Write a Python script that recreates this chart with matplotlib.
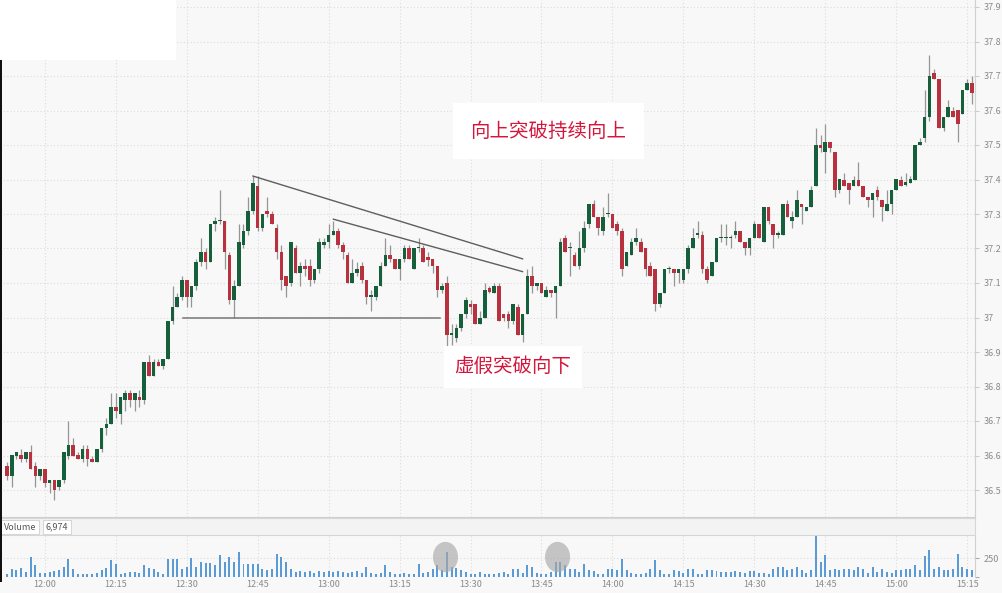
"""Минутные свечи с ложным пробоем вниз и продолжением вверх."""
import matplotlib.pyplot as plt
import numpy as np
from matplotlib.patches import Ellipse, Rectangle

plt.rcParams['font.family'] = ['Noto Sans CJK SC', 'DejaVu Sans']

START = 11 * 60 + 52  # first candle 11:52

opens = [
    36.57, 36.54, 36.60, 36.60, 36.59, 36.61, 36.57, 36.54, 36.56, 36.52,
    36.53, 36.51, 36.53, 36.60, 36.63, 36.60, 36.59, 36.62, 36.59, 36.58,
    36.62, 36.68, 36.69, 36.74, 36.72, 36.76, 36.78, 36.76, 36.77, 36.76,
    36.87, 36.83, 36.87, 36.86, 36.88, 36.99, 37.03, 37.06, 37.11, 37.06,
    37.09, 37.16, 37.19, 37.16, 37.27, 37.28, 37.28, 37.18, 37.05, 37.09,
    37.21, 37.25, 37.31, 37.38, 37.26, 37.31, 37.30, 37.26, 37.19, 37.12,
    37.10, 37.20, 37.13, 37.15, 37.15, 37.11, 37.14, 37.21, 37.22, 37.24,
    37.25, 37.21, 37.18, 37.10, 37.13, 37.15, 37.11, 37.06, 37.06, 37.09,
    37.15, 37.18, 37.17, 37.14, 37.17, 37.20, 37.14, 37.20, 37.20, 37.175,
    37.17, 37.15, 37.08, 37.10, 36.95, 36.94, 36.97, 37.01, 37.04, 37.04,
    36.98, 37.00, 37.085, 37.07, 37.09, 37.01, 37.01, 36.99, 37.03, 36.95,
    37.01, 37.12, 37.09, 37.10, 37.06, 37.08, 37.07, 37.09, 37.23, 37.20,
    37.18, 37.15, 37.20, 37.27, 37.33, 37.29, 37.25, 37.30, 37.30, 37.27,
    37.25, 37.15, 37.18, 37.22, 37.22, 37.20, 37.15, 37.14, 37.04, 37.07,
    37.14, 37.14, 37.13, 37.11, 37.14, 37.20, 37.24, 37.24, 37.14, 37.12,
    37.16, 37.23, 37.23, 37.23, 37.24, 37.25, 37.22, 37.20, 37.23, 37.27,
    37.22, 37.32, 37.27, 37.24, 37.24, 37.33, 37.28, 37.29, 37.33, 37.31,
    37.32, 37.38, 37.50, 37.48, 37.51, 37.48, 37.37, 37.40, 37.39, 37.38,
    37.40, 37.38, 37.35, 37.34, 37.37, 37.34, 37.31, 37.33, 37.37, 37.40,
    37.385, 37.39, 37.40, 37.50, 37.52, 37.58, 37.71, 37.69, 37.55, 37.58,
    37.60, 37.60, 37.59, 37.66, 37.68,
]
highs = [
    36.58, 36.60, 36.61, 36.62, 36.61, 36.63, 36.58, 36.56, 36.56, 36.53,
    36.53, 36.53, 36.61, 36.70, 36.65, 36.61, 36.63, 36.63, 36.60, 36.62,
    36.68, 36.71, 36.78, 36.78, 36.77, 36.79, 36.79, 36.78, 36.79, 36.87,
    36.89, 36.88, 36.88, 36.88, 36.99, 37.09, 37.07, 37.12, 37.11, 37.09,
    37.17, 37.23, 37.20, 37.27, 37.29, 37.37, 37.28, 37.19, 37.11, 37.27,
    37.27, 37.35, 37.41, 37.41, 37.30, 37.35, 37.31, 37.27, 37.21, 37.12,
    37.22, 37.21, 37.16, 37.17, 37.17, 37.14, 37.23, 37.23, 37.27, 37.28,
    37.26, 37.22, 37.19, 37.17, 37.16, 37.16, 37.11, 37.08, 37.09, 37.16,
    37.23, 37.21, 37.17, 37.17, 37.21, 37.21, 37.20, 37.23, 37.21, 37.19,
    37.17, 37.15, 37.10, 37.12, 36.98, 36.98, 37.01, 37.06, 37.05, 37.04,
    37.02, 37.10, 37.09, 37.10, 37.10, 37.01, 37.02, 37.04, 37.04, 37.01,
    37.14, 37.15, 37.10, 37.10, 37.09, 37.08, 37.09, 37.23, 37.24, 37.22,
    37.19, 37.25, 37.28, 37.33, 37.34, 37.29, 37.32, 37.36, 37.30, 37.28,
    37.26, 37.19, 37.23, 37.26, 37.23, 37.20, 37.16, 37.14, 37.07, 37.14,
    37.15, 37.14, 37.14, 37.14, 37.21, 37.26, 37.28, 37.25, 37.15, 37.16,
    37.23, 37.27, 37.27, 37.24, 37.28, 37.25, 37.22, 37.23, 37.28, 37.27,
    37.32, 37.32, 37.27, 37.25, 37.33, 37.34, 37.31, 37.37, 37.33, 37.32,
    37.38, 37.55, 37.53, 37.56, 37.51, 37.48, 37.40, 37.42, 37.39, 37.41,
    37.45, 37.38, 37.35, 37.36, 37.38, 37.34, 37.37, 37.37, 37.40, 37.41,
    37.42, 37.41, 37.50, 37.52, 37.66, 37.76, 37.72, 37.69, 37.58, 37.63,
    37.61, 37.60, 37.66, 37.69, 37.70,
]
lows = [
    36.53, 36.51, 36.59, 36.58, 36.58, 36.56, 36.51, 36.53, 36.51, 36.49,
    36.47, 36.50, 36.52, 36.59, 36.60, 36.59, 36.58, 36.57, 36.58, 36.58,
    36.61, 36.66, 36.69, 36.71, 36.69, 36.73, 36.74, 36.73, 36.74, 36.75,
    36.83, 36.83, 36.86, 36.85, 36.88, 36.98, 37.03, 37.05, 37.03, 37.03,
    37.08, 37.15, 37.14, 37.16, 37.25, 37.27, 37.14, 37.04, 37.00, 37.09,
    37.20, 37.24, 37.30, 37.25, 37.25, 37.29, 37.27, 37.17, 37.08, 37.06,
    37.09, 37.13, 37.09, 37.12, 37.09, 37.10, 37.13, 37.20, 37.20, 37.24,
    37.20, 37.17, 37.10, 37.10, 37.12, 37.10, 37.04, 37.02, 37.05, 37.09,
    37.15, 37.16, 37.14, 37.11, 37.16, 37.17, 37.14, 37.19, 37.16, 37.15,
    37.13, 37.06, 37.07, 36.90, 36.92, 36.93, 36.96, 37.00, 37.01, 36.98,
    36.98, 37.00, 37.07, 37.07, 36.99, 36.99, 36.97, 36.98, 36.95, 36.93,
    37.01, 37.07, 37.08, 37.07, 37.06, 37.06, 37.00, 37.09, 37.19, 37.12,
    37.15, 37.14, 37.19, 37.26, 37.29, 37.24, 37.24, 37.29, 37.26, 37.24,
    37.12, 37.15, 37.18, 37.21, 37.19, 37.12, 37.12, 37.02, 37.03, 37.07,
    37.13, 37.09, 37.10, 37.10, 37.13, 37.20, 37.23, 37.13, 37.10, 37.12,
    37.16, 37.22, 37.21, 37.20, 37.23, 37.22, 37.18, 37.18, 37.23, 37.23,
    37.22, 37.27, 37.20, 37.23, 37.24, 37.29, 37.26, 37.29, 37.27, 37.31,
    37.32, 37.38, 37.48, 37.42, 37.48, 37.35, 37.36, 37.38, 37.33, 37.38,
    37.38, 37.35, 37.32, 37.29, 37.34, 37.28, 37.31, 37.30, 37.37, 37.38,
    37.38, 37.39, 37.40, 37.50, 37.51, 37.57, 37.69, 37.55, 37.54, 37.58,
    37.58, 37.51, 37.59, 37.66, 37.62,
]
closes = [
    36.54, 36.60, 36.61, 36.59, 36.61, 36.56, 36.54, 36.56, 36.52, 36.53,
    36.50, 36.53, 36.61, 36.63, 36.60, 36.59, 36.62, 36.59, 36.58, 36.62,
    36.68, 36.69, 36.74, 36.73, 36.77, 36.78, 36.76, 36.78, 36.76, 36.87,
    36.83, 36.87, 36.86, 36.88, 36.99, 37.03, 37.06, 37.11, 37.06, 37.09,
    37.16, 37.19, 37.16, 37.27, 37.28, 37.28, 37.19, 37.05, 37.09, 37.22,
    37.25, 37.31, 37.39, 37.26, 37.30, 37.30, 37.27, 37.19, 37.11, 37.09,
    37.22, 37.13, 37.15, 37.14, 37.11, 37.14, 37.22, 37.22, 37.24, 37.25,
    37.21, 37.19, 37.10, 37.13, 37.14, 37.11, 37.06, 37.06, 37.09, 37.15,
    37.18, 37.17, 37.14, 37.17, 37.20, 37.17, 37.20, 37.20, 37.16, 37.167,
    37.15, 37.08, 37.09, 36.95, 36.95, 36.97, 37.01, 37.05, 37.03, 36.98,
    37.00, 37.08, 37.075, 37.09, 36.99, 37.00, 36.99, 37.04, 36.95, 37.01,
    37.12, 37.09, 37.10, 37.07, 37.08, 37.07, 37.09, 37.22, 37.19, 37.20,
    37.15, 37.20, 37.26, 37.33, 37.29, 37.26, 37.29, 37.30, 37.26, 37.25,
    37.14, 37.19, 37.22, 37.23, 37.19, 37.14, 37.12, 37.04, 37.07, 37.14,
    37.14, 37.13, 37.14, 37.14, 37.20, 37.23, 37.24, 37.14, 37.11, 37.16,
    37.23, 37.23, 37.23, 37.23, 37.25, 37.22, 37.20, 37.23, 37.27, 37.23,
    37.32, 37.28, 37.24, 37.24, 37.33, 37.29, 37.29, 37.34, 37.32, 37.32,
    37.37, 37.50, 37.49, 37.51, 37.49, 37.37, 37.40, 37.38, 37.37, 37.40,
    37.38, 37.35, 37.34, 37.36, 37.35, 37.32, 37.33, 37.37, 37.40, 37.38,
    37.392, 37.40, 37.50, 37.51, 37.58, 37.70, 37.69, 37.55, 37.58, 37.61,
    37.58, 37.56, 37.66, 37.68, 37.65,
]
volumes = [
    44, 110, 97, 123, 66, 264, 154, 53, 53, 66,
    79, 88, 132, 242, 110, 35, 44, 35, 44, 53,
    88, 123, 220, 167, 44, 53, 66, 66, 53, 154,
    123, 110, 66, 44, 242, 242, 242, 110, 132, 255,
    132, 198, 185, 185, 154, 286, 198, 264, 198, 330,
    176, 176, 176, 176, 110, 88, 110, 299, 264, 198,
    110, 66, 79, 66, 79, 53, 79, 66, 79, 66,
    79, 66, 53, 66, 79, 53, 132, 53, 44, 53,
    154, 66, 35, 44, 53, 44, 44, 167, 53, 66,
    110, 154, 88, 330, 132, 123, 97, 66, 44, 35,
    66, 44, 44, 35, 53,
    66, 44, 110, 110, 53, 154, 132, 53, 44, 35,
    66, 198, 198, 154, 110, 110, 66, 167, 88, 79,
    44, 44, 110, 110, 88, 242, 88, 53, 35, 35,
    53, 110, 220, 88, 44, 44, 88, 79, 53, 110,
    110, 44, 44, 88, 88, 79, 66, 66, 66, 79,
    66, 53, 79, 79, 53, 53, 44, 110, 132, 132,
    88, 110, 132, 88, 53, 88, 550, 198, 286, 88,
    110, 88, 110, 110, 88, 132, 110, 53, 132, 66,
    110, 66, 53, 88, 88, 110, 110, 154, 88, 273,
    352, 110, 132, 88, 88, 110, 308, 132, 110, 88,
]
tick_times = ['12:00', '12:15', '12:30', '12:45', '13:00', '13:15', '13:30',
              '13:45', '14:00', '14:15', '14:30', '14:45', '15:00', '15:15']
price_ticks = [36.5, 36.6, 36.7, 36.8, 36.9, 37.0, 37.1, 37.2, 37.3, 37.4,
               37.5, 37.6, 37.7, 37.8, 37.9]

# линии фигуры: (x по минутам, цена)
support_x, support_y = [37.2, 91.5], [37.0, 37.0]
upper_x, upper_y = [52, 109], [37.41, 37.17]
lower_x, lower_y = [69, 109], [37.285, 37.133]
# кружки на объёмах
circles_x = [92.7, 116.4]
circles_y = [264, 264]

GREEN = '#15603a'
RED = '#b7323e'
BG = '#f8f8f8'
GRID = dict(color='#dcdcdc', lw=0.8, ls=(0, (1, 2)))

x = np.arange(len(closes))
o, h, l, c = map(np.array, (opens, highs, lows, closes))
colors = np.where(c >= o, GREEN, RED)
tick_pos = [int(t[:2]) * 60 + int(t[3:]) - START for t in tick_times]

fig = plt.figure(figsize=(10.03, 5.93), dpi=100, facecolor=BG)
W, H = 1003, 593
right = 975 / W
ax = fig.add_axes([0, 1 - 517 / H, right, 517 / H], facecolor=BG)
axv = fig.add_axes([0, 1 - 577 / H, right, 41 / H], facecolor=BG)

# свечи
ax.vlines(x, l, h, color='#959595', lw=0.9, zorder=2)
ax.bar(x, np.maximum(np.abs(c - o), 0.004), bottom=np.minimum(o, c), width=0.76,
       color=colors, linewidth=0, zorder=3)

ax.plot(support_x, support_y, color='#777777', lw=1.1, zorder=4)
ax.plot(upper_x, upper_y, color='#5e5e5e', lw=1.0, zorder=4)
ax.plot(lower_x, lower_y, color='#5e5e5e', lw=1.0, zorder=4)

ax.text(114.4, 37.54, '向上突破持续向上', color='#d4163c', fontsize=14,
        ha='center', va='center', zorder=5,
        bbox=dict(boxstyle='square,pad=0.9', fc='white', ec='none'))
ax.text(107, 36.857, '虚假突破向下', color='#d4163c', fontsize=14,
        ha='center', va='center', zorder=5,
        bbox=dict(boxstyle='square,pad=0.55', fc='white', ec='none'))

xlim = (-7 / 4.73, (975 - 7) / 4.73)
ax.set_xlim(xlim)
ax.set_ylim(37.9 - 510 / 345, 37.9 + 7 / 345)
ax.set_xticks(tick_pos)
ax.set_xticklabels([])
ax.tick_params(axis='x', length=3, color='#cccccc')
ax.yaxis.tick_right()
ax.set_yticks(price_ticks)
ax.set_yticklabels([f'{p:g}' for p in price_ticks])
ax.tick_params(axis='y', length=3, color='#cccccc', labelsize=6.5,
               labelcolor='#8a8a8a', pad=3)
ax.grid(True, **GRID)
ax.set_axisbelow(True)
for s in ('top', 'left'):
    ax.spines[s].set_visible(False)
for s in ('right', 'bottom'):
    ax.spines[s].set_color('#d0d0d0')

# объёмы
axv.bar(x, volumes, width=0.42, color='#5b9bd5', linewidth=0, zorder=3)
for cx, cy in zip(circles_x, circles_y):
    axv.add_patch(Ellipse((cx, cy), 5.3, 400, color='#a8a8a8', alpha=0.65,
                          lw=0, zorder=4))
axv.set_xlim(xlim)
axv.set_ylim(0, 541)
axv.set_xticks(tick_pos)
axv.set_xticklabels(tick_times)
axv.tick_params(axis='x', length=0, labelsize=6.5, labelcolor='#8a8a8a', pad=2)
axv.yaxis.tick_right()
axv.set_yticks([0, 250])
axv.set_yticklabels(['', '250'])
axv.tick_params(axis='y', length=3, color='#aaaaaa', labelsize=6.5,
                labelcolor='#8a8a8a', pad=3)
axv.grid(True, **GRID)
axv.set_axisbelow(True)
for s in ('top', 'left', 'bottom'):
    axv.spines[s].set_visible(False)
axv.spines['right'].set_color('#d0d0d0')

# полоса заголовка панели объёма
fig.add_artist(Rectangle((0, 1 - 535 / H), right, 17 / H, transform=fig.transFigure,
                         fc='#f3f3f3', ec='#d6d6d6', lw=0.8, zorder=6))
fig.text(4 / W, 1 - 527 / H, 'Volume', fontsize=6.5, color='#555555', va='center',
         zorder=7, bbox=dict(boxstyle='square,pad=0.3', fc='white', ec='#d0d0d0', lw=0.6))
fig.text(46 / W, 1 - 527 / H, '6,974', fontsize=6.5, color='#555555', va='center',
         zorder=7, bbox=dict(boxstyle='square,pad=0.3', fc='white', ec='#d0d0d0', lw=0.6))

# белый угол сверху слева и тёмная кромка
fig.add_artist(Rectangle((0, 1 - 60 / H), 176 / W, 60 / H, transform=fig.transFigure,
                         fc='white', ec='none', zorder=8))
fig.add_artist(Rectangle((0, 1 - 582 / H), 2 / W, 522 / H, transform=fig.transFigure,
                         fc='#111111', ec='none', zorder=8))

fig.savefig('out.png', dpi=100, facecolor=BG)
